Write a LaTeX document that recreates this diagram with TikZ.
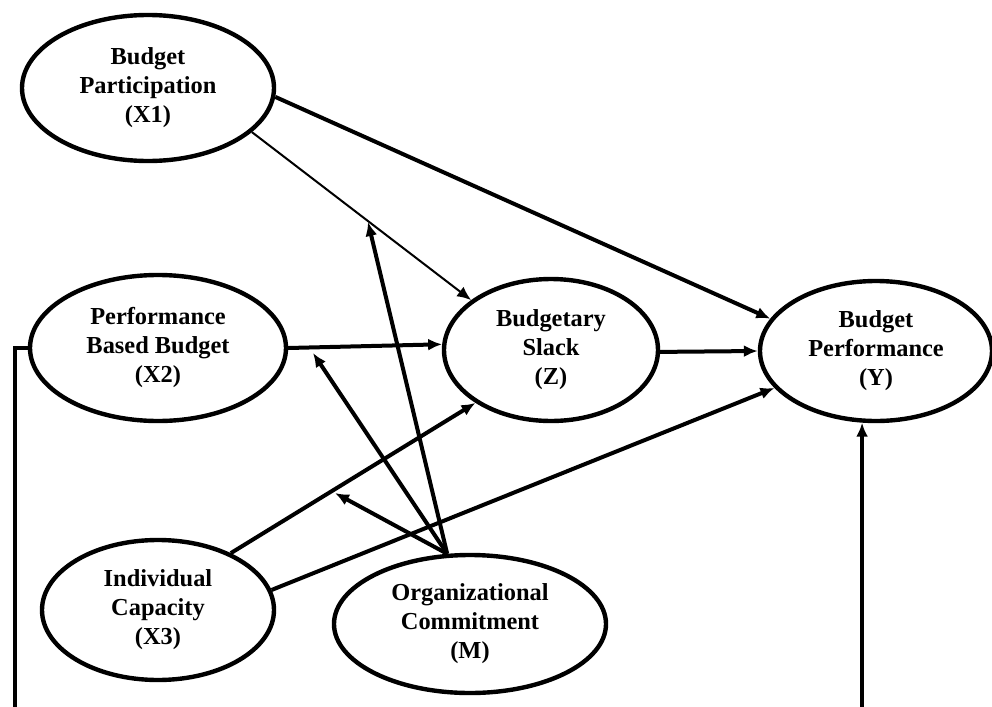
\documentclass[tikz,border=0pt]{standalone}
\usepackage{fontspec}
\setmainfont{Liberation Serif}
\usetikzlibrary{shapes.geometric,arrows.meta}
\begin{document}
\begin{tikzpicture}[x=0.5pt,y=-0.5pt,
  var/.style={ellipse,draw,line width=2.2pt,inner sep=0pt,align=center,
    font=\bfseries\fontsize{12.2}{14.5}\selectfont},
  effect/.style={line width=2pt,-{Latex[length=7pt,width=6pt]}},
  thineffect/.style={line width=1pt,-{Latex[length=7pt,width=6pt]}},
  bracket/.style={line width=1.6pt,-{Latex[length=7pt,width=6pt]}}]
\fill[white] (0,0) rectangle (992,707);
\useasboundingbox (0,0) rectangle (992,707);

\node[var,minimum width=126pt,minimum height=73pt] (X1) at (148,88) {Budget\\Participation\\(X1)};
\node[var,minimum width=128pt,minimum height=73pt] (X2) at (158,348) {Performance\\Based Budget\\(X2)};
\node[var,minimum width=107pt,minimum height=71pt] (Z) at (551,350) {Budgetary\\Slack\\(Z)};
\node[var,minimum width=116pt,minimum height=70pt] (Y) at (876,351) {Budget\\Performance\\(Y)};
\node[var,minimum width=116pt,minimum height=70pt] (X3) at (158,610) {Individual\\Capacity\\(X3)};
\node[var,minimum width=136pt,minimum height=69pt] (M) at (470,624) {Organizational\\Commitment\\(M)};

\coordinate (t1) at (368,222);
\coordinate (t2) at (313,353);
\coordinate (t3) at (335,493);
\coordinate (bl) at (15,712);

\draw[effect] (X1.-4) -- (Y.163);
\draw[thineffect] (X1.-23) -- (Z.148);
\draw[effect] (X2.0) -- (Z.177);
\draw[effect] (Z.-1) -- (Y.180);
\draw[effect] (X3.38) -- (Z.215);
\draw[effect] (X3.10) -- (Y.200);
\draw[effect] (M.108) -- (t1);
\draw[effect] (M.108) -- (t2);
\draw[effect] (M.108) -- (t3);
\draw[bracket] (X2.west) -| (bl) -| (Y.259);
\end{tikzpicture}
\end{document}
